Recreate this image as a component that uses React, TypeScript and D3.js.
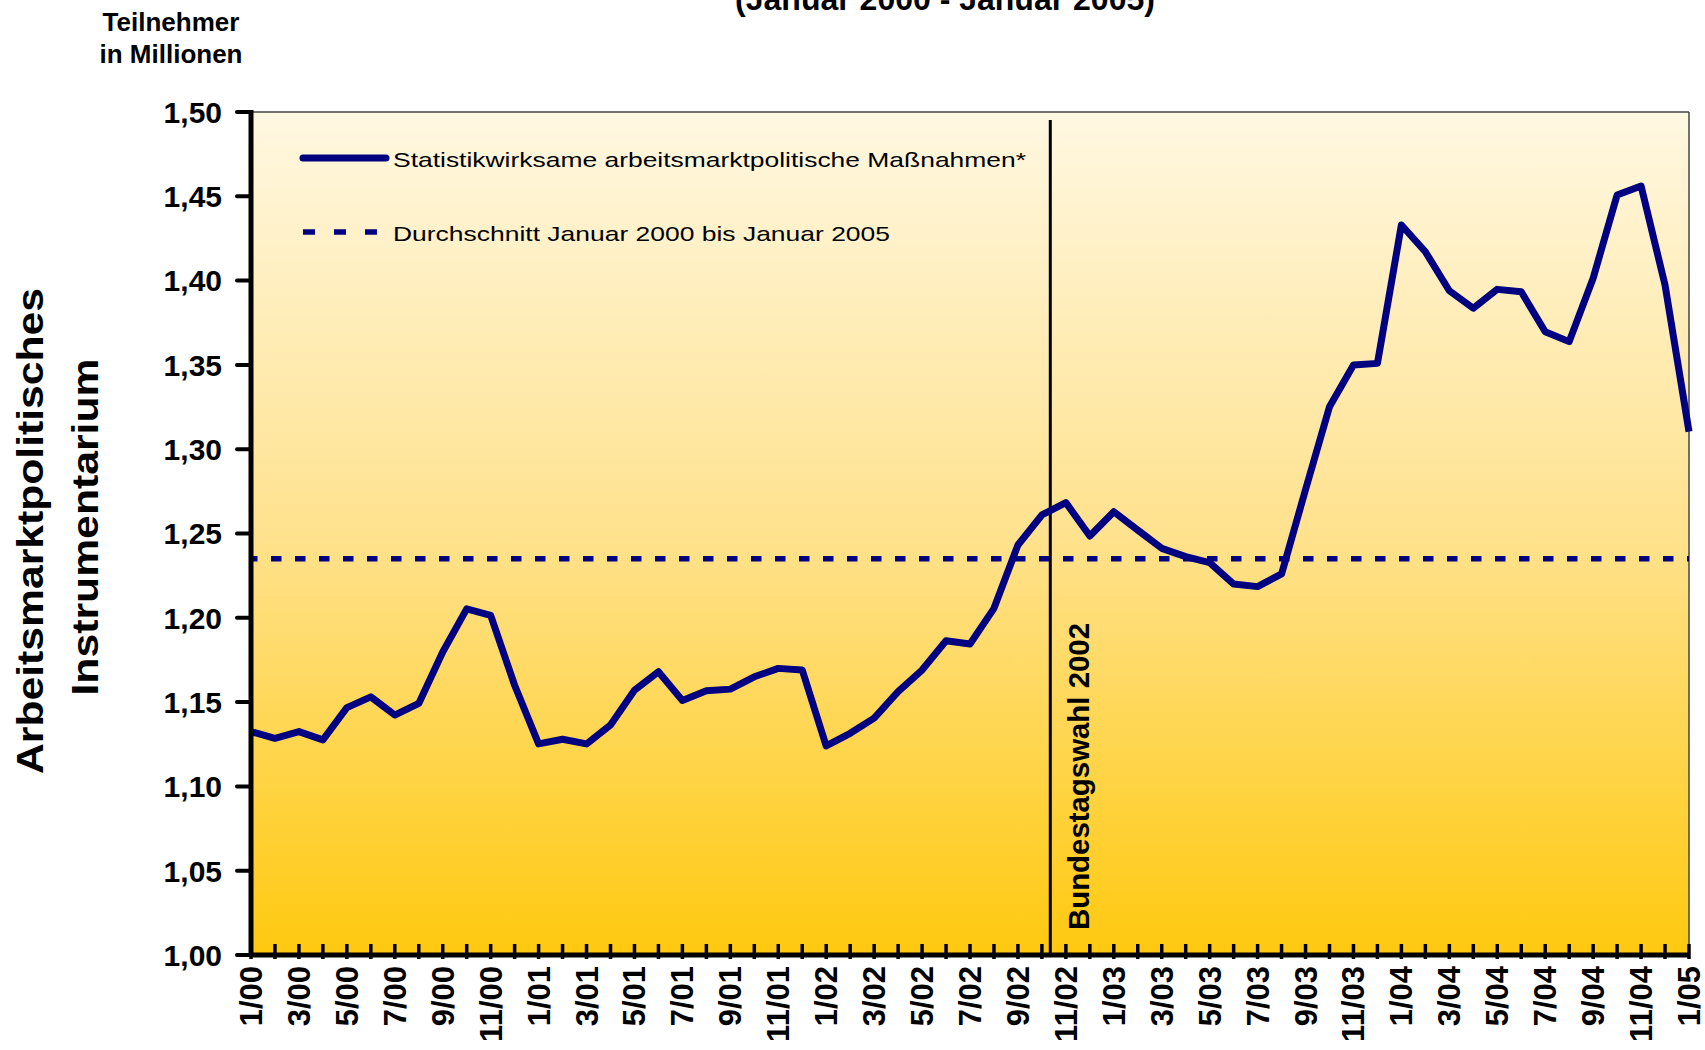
import * as d3 from 'd3'

// months Jan 2000 .. Jan 2005
const MONTHS = [
  '1/00', '2/00', '3/00', '4/00', '5/00', '6/00', '7/00', '8/00', '9/00', '10/00', '11/00', '12/00',
  '1/01', '2/01', '3/01', '4/01', '5/01', '6/01', '7/01', '8/01', '9/01', '10/01', '11/01', '12/01',
  '1/02', '2/02', '3/02', '4/02', '5/02', '6/02', '7/02', '8/02', '9/02', '10/02', '11/02', '12/02',
  '1/03', '2/03', '3/03', '4/03', '5/03', '6/03', '7/03', '8/03', '9/03', '10/03', '11/03', '12/03',
  '1/04', '2/04', '3/04', '4/04', '5/04', '6/04', '7/04', '8/04', '9/04', '10/04', '11/04', '12/04',
  '1/05',
]

// Teilnehmer in Millionen
const PARTICIPANTS = [
  1.1325, 1.1285, 1.1325, 1.1276, 1.1467, 1.1531, 1.1423, 1.1492, 1.1797, 1.2053, 1.2014, 1.160,
  1.1252, 1.128, 1.1252, 1.1364, 1.157, 1.168, 1.151, 1.1567, 1.1577, 1.165, 1.170, 1.169,
  1.124, 1.1315, 1.1405, 1.1562, 1.169, 1.1864, 1.1845, 1.2056, 1.2432, 1.261, 1.2683, 1.2485,
  1.2629, 1.252, 1.2412, 1.2363, 1.2327, 1.220, 1.2185, 1.226, 1.276, 1.3252, 1.3499, 1.3509,
  1.433, 1.4171, 1.394, 1.3836, 1.3948, 1.3934, 1.3697, 1.3638, 1.4014, 1.4508, 1.4561, 1.3974,
  1.3104,
]

const AVERAGE = 1.235
const ELECTION_POS = 33.35 // position between 10/02 and 11/02
const Y_TICKS = [1.0, 1.05, 1.1, 1.15, 1.2, 1.25, 1.3, 1.35, 1.4, 1.45, 1.5]

const NAVY = '#000080'
const FONT = '"Liberation Sans", Arial, Helvetica, sans-serif'

export default function App() {
  const W = 1705, H = 1050
  const L = 251, R = 1689, T = 112, B = 955

  const x = d3.scaleLinear().domain([0, MONTHS.length - 1]).range([L, R])
  const y = d3.scaleLinear().domain([1.0, 1.5]).range([B, T])
  const fmt = (v: number) => d3.format('.2f')(v).replace('.', ',')

  const line = d3.line<number>().x((_, i) => x(i)).y(d => y(d))

  return (
    <svg width={W} height={H} style={{ position: 'absolute', left: 0, top: 0, fontFamily: FONT }}>
      <defs>
        <linearGradient id="bg" x1="0" y1="0" x2="0" y2="1">
          <stop offset="0%" stopColor="#FFF8E2" />
          <stop offset="50%" stopColor="#FFE28E" />
          <stop offset="100%" stopColor="#FFC90F" />
        </linearGradient>
      </defs>

      {/* title (cut off at the top) */}
      <text x={945} y={10} textAnchor="middle" fontSize={32} fontWeight="bold">
        (Januar 2000 - Januar 2005)
      </text>

      <text x={171} y={31} textAnchor="middle" fontSize={26} fontWeight="bold">Teilnehmer</text>
      <text x={171} y={63} textAnchor="middle" fontSize={26} fontWeight="bold">in Millionen</text>

      {/* plot area */}
      <rect x={L} y={T} width={R - L} height={B - T} fill="url(#bg)" />
      <line x1={L} x2={R} y1={T} y2={T} stroke="#444" strokeWidth={1.5} />
      <line x1={R} x2={R} y1={T} y2={B} stroke="#444" strokeWidth={1.5} />

      {/* average */}
      <line x1={L} x2={R} y1={y(AVERAGE)} y2={y(AVERAGE)} stroke={NAVY} strokeWidth={5.5}
        strokeDasharray="10.5 13.5" strokeDashoffset={4} />

      {/* election marker */}
      <line x1={x(ELECTION_POS)} x2={x(ELECTION_POS)} y1={T + 8} y2={B} stroke="#000" strokeWidth={3} />
      <text transform={`translate(${x(ELECTION_POS) + 39},930) rotate(-90)`} fontSize={30}
        fontWeight="bold" textLength={307} lengthAdjust="spacingAndGlyphs">
        Bundestagswahl 2002
      </text>

      {/* series */}
      <path d={line(PARTICIPANTS) ?? ''} fill="none" stroke={NAVY} strokeWidth={7} strokeLinejoin="round" />

      {/* legend */}
      <line x1={303} x2={386} y1={158} y2={158} stroke={NAVY} strokeWidth={7} strokeLinecap="round" />
      <text x={393} y={167} fontSize={21} textLength={633} lengthAdjust="spacingAndGlyphs">
        Statistikwirksame arbeitsmarktpolitische Maßnahmen*
      </text>
      <line x1={303} x2={377} y1={232} y2={232} stroke={NAVY} strokeWidth={5.5} strokeDasharray="12 19" />
      <text x={393} y={241} fontSize={21} textLength={497} lengthAdjust="spacingAndGlyphs">
        Durchschnitt Januar 2000 bis Januar 2005
      </text>

      {/* y axis */}
      <line x1={L} x2={L} y1={T - 2} y2={B} stroke="#000" strokeWidth={5} />
      {Y_TICKS.map(t => (
        <g key={t}>
          <line x1={L - 14} x2={L} y1={y(t)} y2={y(t)} stroke="#000" strokeWidth={4} strokeLinecap="round" />
          <text x={222} y={y(t)} dy="0.36em" textAnchor="end" fontSize={30} fontWeight="bold">{fmt(t)}</text>
        </g>
      ))}

      {/* x axis */}
      <line x1={L} x2={R} y1={B} y2={B} stroke="#000" strokeWidth={5} />
      {MONTHS.map((m, i) => (
        <line key={m} x1={x(i)} x2={x(i)} y1={B - 11} y2={B + 4} stroke="#000" strokeWidth={3.5} />
      ))}
      {MONTHS.map((m, i) => i % 2 === 0 ? (
        <text key={'l' + m} transform={`translate(${x(i) + 11},966) rotate(-90)`} textAnchor="end"
          fontSize={31} fontWeight="bold">{m}</text>
      ) : null)}

      {/* y axis title */}
      <text transform="translate(43,531) rotate(-90)" textAnchor="middle" fontSize={36} fontWeight="bold"
        textLength={486} lengthAdjust="spacingAndGlyphs">
        Arbeitsmarktpolitisches
      </text>
      <text transform="translate(98,527) rotate(-90)" textAnchor="middle" fontSize={36} fontWeight="bold"
        textLength={337} lengthAdjust="spacingAndGlyphs">
        Instrumentarium
      </text>
    </svg>
  )
}
